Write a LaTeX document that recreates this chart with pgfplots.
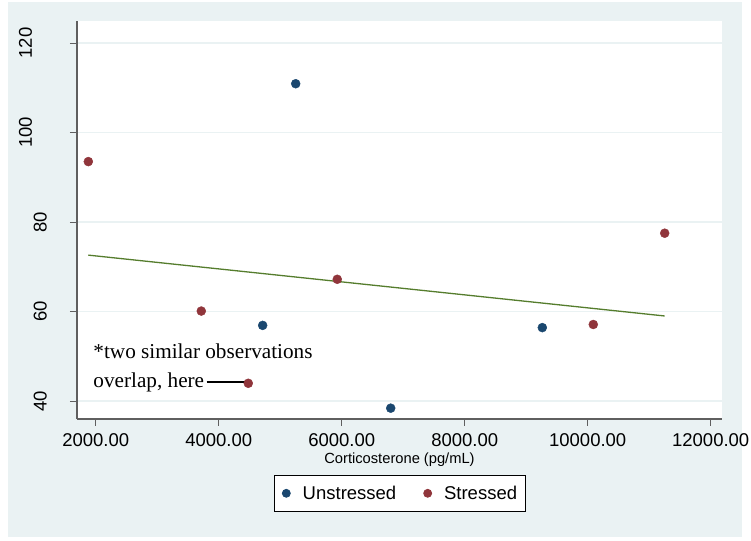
\documentclass[border=0pt]{standalone}
\usepackage{fontspec}
\setmainfont{Liberation Sans}
\newfontfamily\seriffont{Liberation Serif}
\usepackage{pgfplots}
\pgfplotsset{compat=1.18}
\pgfplotsset{mylegimg/.style={legend image code/.code={\draw[##1, mark size=4pt] plot coordinates {(0pt,0pt)}; \path (-6pt,0pt) (14pt,0pt);}}}
\definecolor{bgcol}{RGB}{234,242,243}
\definecolor{stnavy}{RGB}{26,71,111}
\definecolor{stmaroon}{RGB}{144,53,59}
\definecolor{stgreen}{RGB}{85,125,45}
\definecolor{axcol}{RGB}{95,95,95}
\begin{document}
\begin{tikzpicture}[x=1pt,y=1pt]
\fill[white] (0,0) rectangle (751,540);
\fill[bgcol] (8,3) rectangle (742,538);
\begin{axis}[
  at={(77pt,121pt)}, anchor=south west,
  scale only axis, width=645pt, height=398pt,
  xmin=1696, xmax=12184, ymin=35.98, ymax=124.92,
  axis x line*=bottom, axis y line*=left,
  axis line style={axcol, line width=1.2pt, -},
  axis background/.style={fill=white},
  tick align=outside, major tick length=7pt,
  tick style={axcol, line width=1pt},
  scaled x ticks=false, scaled y ticks=false,
  xtick={2000,4000,6000,8000,10000,12000},
  xticklabels={2000.00,4000.00,6000.00,8000.00,10000.00,12000.00},
  ytick={40,60,80,100,120},
  yticklabels={40,60,80,\raisebox{15pt}{100},\raisebox{15pt}{120}},
  xticklabel style={font=\fontsize{18.5}{22}\selectfont, anchor=north, inner sep=0pt, yshift=-7pt},
  yticklabel style={font=\fontsize{18.5}{22}\selectfont, xshift=-23pt, rotate=90, anchor=south, inner sep=0pt},
  ymajorgrids, xmajorgrids=false,
  major grid style={bgcol, line width=1.6pt},
  xlabel={Corticosterone (pg/mL)},
  xlabel style={font=\fontsize{14.7}{17}\selectfont, at={(axis description cs:0.5,0)}, anchor=base, yshift=-45pt, inner sep=0pt},
  legend columns=2,
  legend style={at={(axis description cs:0.5,0)}, anchor=center, yshift=-74.3pt,
    draw=black, line width=0.8pt, fill=white, font=\fontsize{18.5}{22}\selectfont,
    inner ysep=8.5pt, inner xsep=6pt,
    /tikz/every even column/.append style={column sep=23pt}},
  legend cell align=left,
]
\addplot[only marks, mark=*, mark size=4.5pt, color=stnavy, mylegimg] coordinates {
  (5252,110.9) (4715,56.9) (6797,38.4) (9262,56.4)
};
\addlegendentry{Unstressed}
\addplot[only marks, mark=*, mark size=4.5pt, color=stmaroon, mylegimg] coordinates {
  (1880,93.5) (3717,60.1) (4481,43.96) (5928,67.2) (10091,57.1) (11252,77.5)
};
\addlegendentry{Stressed}
\addplot[stgreen, line width=1.3pt, forget plot] coordinates {(1880,72.6) (11252,59.0)};
\addplot[black, line width=1.5pt, forget plot] coordinates {(3804,44.3) (4427,44.3)};
\node[anchor=base west, inner sep=0pt, font=\seriffont\fontsize{21.2}{29}\selectfont] at (axis cs:1961,49.5) {*two similar observations};
\node[anchor=base west, inner sep=0pt, font=\seriffont\fontsize{21.2}{29}\selectfont] at (axis cs:1961,43.1) {overlap, here};
\end{axis}
\end{tikzpicture}
\end{document}
